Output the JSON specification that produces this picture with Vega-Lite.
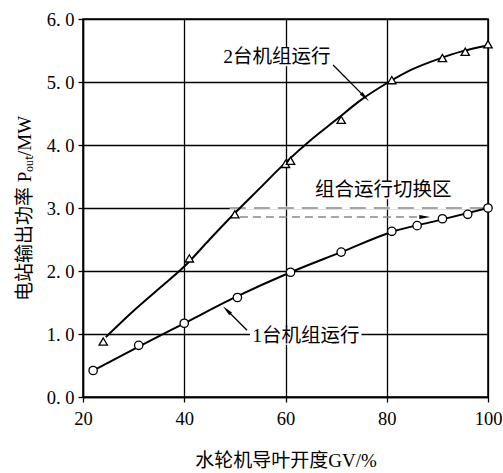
{
  "$schema": "https://vega.github.io/schema/vega-lite/v6.json",
  "width": 405,
  "height": 378,
  "autosize": "none",
  "padding": {"left": 83, "top": 19, "right": 15, "bottom": 76},
  "background": "white",
  "datasets": {
    "curves": [
      {"series": "2台", "gv": 24.5, "p": 0.95},
      {"series": "2台", "gv": 30, "p": 1.37},
      {"series": "2台", "gv": 35, "p": 1.72},
      {"series": "2台", "gv": 40, "p": 2.07},
      {"series": "2台", "gv": 45, "p": 2.5},
      {"series": "2台", "gv": 50, "p": 2.92},
      {"series": "2台", "gv": 55, "p": 3.32},
      {"series": "2台", "gv": 60, "p": 3.72},
      {"series": "2台", "gv": 65, "p": 4.08},
      {"series": "2台", "gv": 70, "p": 4.4},
      {"series": "2台", "gv": 75, "p": 4.72},
      {"series": "2台", "gv": 80, "p": 4.98},
      {"series": "2台", "gv": 85, "p": 5.2},
      {"series": "2台", "gv": 90, "p": 5.36},
      {"series": "2台", "gv": 95, "p": 5.49},
      {"series": "2台", "gv": 100, "p": 5.58},
      {"series": "1台", "gv": 22, "p": 0.42},
      {"series": "1台", "gv": 31, "p": 0.8},
      {"series": "1台", "gv": 40, "p": 1.17},
      {"series": "1台", "gv": 50, "p": 1.58},
      {"series": "1台", "gv": 61, "p": 1.98},
      {"series": "1台", "gv": 71, "p": 2.3},
      {"series": "1台", "gv": 81, "p": 2.62},
      {"series": "1台", "gv": 90, "p": 2.8},
      {"series": "1台", "gv": 100, "p": 3.0}
    ],
    "markers": [
      {"series": "2台", "gv": 24, "p": 0.88},
      {"series": "2台", "gv": 41, "p": 2.2},
      {"series": "2台", "gv": 50, "p": 2.9},
      {"series": "2台", "gv": 60, "p": 3.7},
      {"series": "2台", "gv": 61, "p": 3.75},
      {"series": "2台", "gv": 71, "p": 4.4},
      {"series": "2台", "gv": 81, "p": 5.03},
      {"series": "2台", "gv": 91, "p": 5.38},
      {"series": "2台", "gv": 95.5, "p": 5.48},
      {"series": "2台", "gv": 100, "p": 5.6},
      {"series": "1台", "gv": 22, "p": 0.42},
      {"series": "1台", "gv": 31, "p": 0.82},
      {"series": "1台", "gv": 40, "p": 1.17},
      {"series": "1台", "gv": 50.5, "p": 1.58},
      {"series": "1台", "gv": 61, "p": 1.98},
      {"series": "1台", "gv": 71, "p": 2.3},
      {"series": "1台", "gv": 81, "p": 2.63},
      {"series": "1台", "gv": 86, "p": 2.72},
      {"series": "1台", "gv": 91, "p": 2.83},
      {"series": "1台", "gv": 96, "p": 2.9},
      {"series": "1台", "gv": 100, "p": 3.0}
    ],
    "labels": [
      {"text": "2台机组运行", "x": 58.3, "y": 5.4, "x1": 54.3, "x2": 76.3, "y1": 5.25, "y2": 5.54},
      {"text": "组合运行切换区", "x": 79.3, "y": 3.29, "x1": 65.4, "x2": 93.1, "y1": 3.14, "y2": 3.43},
      {"text": "1台机组运行", "x": 64, "y": 0.97, "x1": 53, "x2": 75, "y1": 0.83, "y2": 1.11}
    ],
    "leaders": [
      {"name": "2台", "x1": 69.4, "y1": 5.27, "x2": 75.7, "y2": 4.76},
      {"name": "1台", "x1": 52.4, "y1": 1.06, "x2": 48.4, "y2": 1.38}
    ],
    "switch": [
      {"line": "upper", "a": 49, "b": 100, "p": 3.0},
      {"line": "lower", "a": 51, "b": 87.5, "p": 2.857}
    ]
  },
  "layer": [
    {
      "data": {"name": "labels"},
      "mark": {"type": "rect", "fill": "white"},
      "encoding": {
        "x": {"field": "x1", "type": "quantitative", "scale": {"domain": [20, 100], "nice": false}},
        "x2": {"field": "x2"},
        "y": {"field": "y1", "type": "quantitative", "scale": {"domain": [0, 6], "nice": false}},
        "y2": {"field": "y2"}
      }
    },
    {
      "data": {"name": "switch"},
      "transform": [{"filter": "datum.line === 'upper'"}],
      "mark": {"type": "rule", "color": "white", "strokeWidth": 3},
      "encoding": {
        "x": {"field": "a", "type": "quantitative"},
        "x2": {"field": "b"},
        "y": {"field": "p", "type": "quantitative"}
      }
    },
    {
      "data": {"name": "switch"},
      "transform": [{"filter": "datum.line === 'upper'"}],
      "mark": {"type": "rule", "color": "#888888", "strokeWidth": 1.5, "strokeDash": [16, 8]},
      "encoding": {
        "x": {"field": "a", "type": "quantitative"},
        "x2": {"field": "b"},
        "y": {"field": "p", "type": "quantitative"}
      }
    },
    {
      "data": {"name": "switch"},
      "transform": [{"filter": "datum.line === 'lower'"}],
      "mark": {"type": "rule", "color": "#888888", "strokeWidth": 1.5, "strokeDash": [8, 5]},
      "encoding": {
        "x": {"field": "a", "type": "quantitative"},
        "x2": {"field": "b"},
        "y": {"field": "p", "type": "quantitative"}
      }
    },
    {
      "data": {"name": "switch"},
      "transform": [{"filter": "datum.line === 'lower'"}],
      "mark": {"type": "point", "shape": "M0,-1L0.35,1L-0.35,1Z", "angle": 90, "filled": true, "color": "black", "size": 120, "opacity": 1},
      "encoding": {
        "x": {"field": "b", "type": "quantitative"},
        "y": {"field": "p", "type": "quantitative"}
      }
    },
    {
      "data": {"name": "curves"},
      "mark": {"type": "line", "color": "black", "strokeWidth": 2, "interpolate": "monotone"},
      "encoding": {
        "x": {"field": "gv", "type": "quantitative"},
        "y": {"field": "p", "type": "quantitative"},
        "detail": {"field": "series", "type": "nominal"}
      }
    },
    {
      "data": {"name": "markers"},
      "mark": {"type": "point", "filled": true, "fill": "white", "stroke": "black", "strokeWidth": 1.3, "size": 70, "opacity": 1},
      "encoding": {
        "x": {"field": "gv", "type": "quantitative"},
        "y": {"field": "p", "type": "quantitative"},
        "shape": {"field": "series", "type": "nominal", "scale": {"domain": ["2台", "1台"], "range": ["triangle-up", "circle"]}, "legend": null}
      }
    },
    {
      "data": {"name": "leaders"},
      "mark": {"type": "rule", "color": "black", "strokeWidth": 1.3},
      "encoding": {
        "x": {"field": "x1", "type": "quantitative"},
        "y": {"field": "y1", "type": "quantitative"},
        "x2": {"field": "x2"},
        "y2": {"field": "y2"}
      }
    },
    {
      "data": {"name": "leaders"},
      "transform": [{"filter": "datum.name === '2台'"}],
      "mark": {"type": "point", "shape": "M0,-1L0.35,1L-0.35,1Z", "angle": 135, "filled": true, "color": "black", "size": 120, "opacity": 1},
      "encoding": {
        "x": {"field": "x2", "type": "quantitative"},
        "y": {"field": "y2", "type": "quantitative"}
      }
    },
    {
      "data": {"name": "leaders"},
      "transform": [{"filter": "datum.name === '1台'"}],
      "mark": {"type": "point", "shape": "M0,-1L0.35,1L-0.35,1Z", "angle": 315, "filled": true, "color": "black", "size": 120, "opacity": 1},
      "encoding": {
        "x": {"field": "x2", "type": "quantitative"},
        "y": {"field": "y2", "type": "quantitative"}
      }
    },
    {
      "data": {"name": "labels"},
      "mark": {"type": "text", "font": "Liberation Serif, Noto Sans CJK SC", "fontSize": 19.5, "color": "black"},
      "encoding": {
        "x": {"field": "x", "type": "quantitative"},
        "y": {"field": "y", "type": "quantitative"},
        "text": {"field": "text"}
      }
    }
  ],
  "encoding": {
    "x": {
      "type": "quantitative",
      "axis": {
        "title": "水轮机导叶开度GV/%",
        "values": [20, 40, 60, 80, 100],
        "labelExpr": "format(datum.value, 'd')"
      }
    },
    "y": {
      "type": "quantitative",
      "axis": {
        "title": "电站输出功率 Pₒᵤₜ/MW",
        "values": [0, 1, 2, 3, 4, 5, 6],
        "labelExpr": "replace(format(datum.value, '.1f'), '.', '. ')"
      }
    }
  },
  "config": {
    "view": {"stroke": "black", "strokeWidth": 1.5},
    "axis": {
      "grid": true,
      "gridColor": "black",
      "gridOpacity": 1,
      "gridWidth": 1.3,
      "domainColor": "black",
      "domainWidth": 1.5,
      "tickColor": "black",
      "tickSize": 5,
      "tickWidth": 1.3,
      "labelFlush": false,
      "labelOverlap": false,
      "labelFont": "Liberation Serif",
      "labelFontSize": 18.5,
      "labelColor": "black",
      "titleFont": "Liberation Serif, Noto Sans CJK SC",
      "titleFontSize": 19,
      "titleFontWeight": "normal",
      "titleColor": "black"
    },
    "axisX": {"labelPadding": 7, "titlePadding": 24},
    "axisY": {"labelPadding": 4, "titlePadding": 12}
  }
}
